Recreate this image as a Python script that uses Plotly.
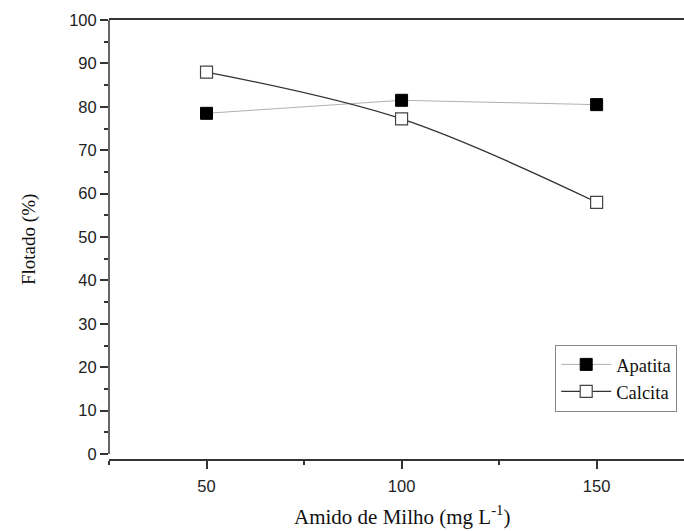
import plotly.graph_objects as go

amido = [50, 100, 150]
apatita = [78.5, 81.5, 80.5]
calcita = [88.0, 77.2, 58.0]

x_ticks = [50, 100, 150]
y_ticks = [0, 10, 20, 30, 40, 50, 60, 70, 80, 90, 100]

fig = go.Figure()
fig.add_trace(go.Scatter(
    x=amido, y=apatita, name="Apatita", mode="lines+markers",
    line=dict(color="#b0b0b0", width=1),
    marker=dict(symbol="square", size=12, color="black", line=dict(color="black", width=1)),
))
fig.add_trace(go.Scatter(
    x=amido, y=calcita, name="Calcita", mode="lines+markers",
    line=dict(color="#333333", width=1.3, shape="spline", smoothing=1.0),
    marker=dict(symbol="square", size=12, color="white", line=dict(color="#444444", width=1.2)),
))

axis_font = dict(family="Liberation Sans, Arial, sans-serif", size=16.5, color="#222222")
serif = "Liberation Serif, Times New Roman, serif"

fig.update_layout(
    width=684, height=531,
    margin=dict(l=109, r=0, t=20, b=72),
    plot_bgcolor="white", paper_bgcolor="white",
    showlegend=True,
    legend=dict(
        x=0.776, y=0.26, xanchor="left", yanchor="top",
        bordercolor="#888888", borderwidth=1, bgcolor="white",
        font=dict(family=serif, size=18.5, color="#111111"),
        itemwidth=50, tracegroupgap=0,
    ),
    xaxis=dict(
        range=[25, 172.4], tickmode="array", tickvals=x_ticks,
        ticks="outside", ticklen=8, tickwidth=1.5, tickcolor="#333333",
        showline=True, linecolor="#333333", linewidth=1.5, mirror=True,
        showgrid=False, zeroline=False, tickfont=axis_font, ticklabelstandoff=3,
        minor=dict(ticks="outside", ticklen=4, tickwidth=1.5, tickcolor="#333333", tickvals=[25, 75, 125, 175]),
    ),
    yaxis=dict(
        range=[-1.15, 100], tickmode="array", tickvals=y_ticks,
        ticks="outside", ticklen=8, tickwidth=1.5, tickcolor="#333333",
        showline=False, showgrid=False, zeroline=False, tickfont=axis_font,
        minor=dict(ticks="outside", ticklen=4, tickwidth=1.5, tickcolor="#333333", dtick=5, tick0=0),
    ),
    shapes=[dict(type="line", xref="paper", yref="y", x0=0, x1=0, y0=0, y1=100,
                 line=dict(color="#333333", width=1.5))],
    annotations=[
        dict(text="Amido de Milho (mg L<sup>-1</sup>)", xref="x", yref="paper", x=100, y=-0.128,
             xanchor="center", yanchor="middle", showarrow=False,
             font=dict(family=serif, size=21, color="#111111")),
        dict(text="Flotado (%)", xref="paper", yref="paper", x=-0.14, y=0.5,
             xanchor="center", yanchor="middle", showarrow=False, textangle=-90,
             font=dict(family=serif, size=19, color="#111111")),
    ],
)

fig.write_html("out.html")
